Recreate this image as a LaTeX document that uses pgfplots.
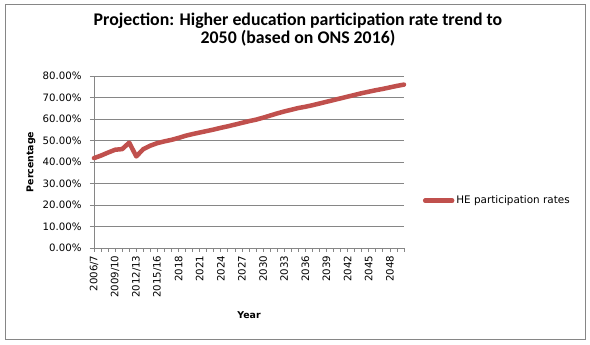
\documentclass[border=0pt]{standalone}
\usepackage{fontspec}
\setmainfont{DejaVu Sans}
\newfontfamily\titlefont{Carlito}
\usepackage{pgfplots}
\pgfplotsset{compat=1.18}
\definecolor{heRed}{HTML}{C0504D}
\definecolor{gridGray}{HTML}{868686}
\pgfplotstableread{
x y
0 41.8
1 43.0
2 44.4
3 45.7
4 46.0
5 49.0
6 42.6
7 46.0
8 47.6
9 48.8
10 49.6
11 50.3
12 51.2
13 52.2
14 53.0
15 53.7
16 54.4
17 55.1
18 55.9
19 56.6
20 57.4
21 58.2
22 59.0
23 59.7
24 60.6
25 61.6
26 62.6
27 63.5
28 64.3
29 65.1
30 65.7
31 66.4
32 67.2
33 68.0
34 68.8
35 69.6
36 70.4
37 71.2
38 72.0
39 72.7
40 73.4
41 74.0
42 74.7
43 75.4
44 76.0
}\hedata
\begin{document}
\begin{tikzpicture}
\useasboundingbox (0pt,0pt) rectangle (590pt,345pt);
\draw[gridGray, line width=1pt] (5.7pt,340.3pt) rectangle (585pt,5.7pt);
\node[font=\titlefont\bfseries\fontsize{17.8}{20}\selectfont, anchor=base, inner sep=0pt] at (298pt,319.6pt) {Projection: Higher education participation rate trend to};
\node[font=\titlefont\bfseries\fontsize{17.8}{20}\selectfont, anchor=base, inner sep=0pt] at (298pt,301.8pt) {2050 (based on ONS 2016)};
\begin{axis}[
  at={(94pt,97pt)}, anchor=south west, scale only axis,
  width=310pt, height=172pt,
  xmin=0, xmax=44, ymin=0, ymax=80,
  axis x line*=bottom, axis y line*=left,
  axis line style={gridGray, line width=0.8pt, -},
  ytick={0,10,...,80},
  yticklabels={0.00\%,10.00\%,20.00\%,30.00\%,40.00\%,50.00\%,60.00\%,70.00\%,80.00\%},
  ymajorgrids, grid style={gridGray, line width=0.8pt},
  xtick={0,...,44},
  xticklabels={2006/7,,,2009/10,,,2012/13,,,2015/16,,,2018,,,2021,,,2024,,,2027,,,2030,,,2033,,,2036,,,2039,,,2042,,,2045,,,2048,,},
  tick align=outside, major tick length=4pt,
  tick style={gridGray, line width=0.8pt},
  xticklabel style={rotate=90, anchor=east, font=\fontsize{10.2}{12}\selectfont},
  yticklabel style={xshift=-5pt, font=\fontsize{10.2}{12}\selectfont},
  xlabel={Year}, ylabel={Percentage},
  label style={font=\bfseries\fontsize{9.4}{11}\selectfont},
  xlabel style={at={(axis description cs:0.5,-0.39)}, anchor=center},
  ylabel style={at={(axis description cs:-0.203,0.5)}, anchor=center},
  legend style={at={(1.061,0.275)}, anchor=west, draw=none, fill=none,
    font=\fontsize{10.4}{12}\selectfont, inner sep=0pt, outer sep=0pt},
  legend cell align=left,
  legend image code/.code={\draw[#1, line cap=round] (0pt,0pt) -- (27pt,0pt);},
  clip=false,
]
\addplot[heRed, line width=4.5pt, line join=round, line cap=round] table[x=x,y=y] {\hedata};
\addlegendentry{HE participation rates}
\end{axis}
\end{tikzpicture}
\end{document}
